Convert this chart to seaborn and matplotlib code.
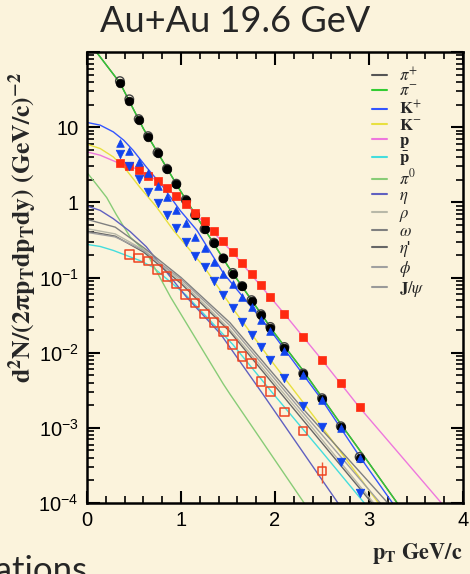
import numpy as np
import pandas as pd
import matplotlib
matplotlib.use('Agg')
import matplotlib.pyplot as plt
import seaborn as sns
from matplotlib.lines import Line2D
from matplotlib.ticker import FixedLocator, FixedFormatter, MultipleLocator, LogLocator, NullFormatter

# 数据点 (pT, 产额)
pt_pi = [0.35, 0.45, 0.55, 0.65, 0.75, 0.85, 0.95, 1.05, 1.15, 1.25, 1.35, 1.45, 1.55, 1.65, 1.75, 1.85, 1.95, 2.1, 2.3, 2.5, 2.7, 2.9]
y_pim = [38.6, 22, 12.4, 7.4, 4.5, 2.75, 1.74, 1.06, 0.67, 0.436, 0.284, 0.179, 0.113, 0.076, 0.0494, 0.032, 0.0216, 0.0117, 0.0052, 0.00244, 0.00103, 0.0004]
y_pip = [41, 23.5, 12.8, 7.6, 4.6, 2.8, 1.77, 1.08, 0.68, 0.44, 0.29, 0.18, 0.115, 0.077, 0.05, 0.0325, 0.022, 0.0119, 0.0053, 0.00248, 0.00105, 0.00041]

pt_k = pt_pi
y_kp = [6.18, 4.83, 3.41, 2.44, 1.67, 1.16, 0.78, 0.53, 0.344, 0.249, 0.16, 0.112, 0.0824, 0.0546, 0.0402, 0.0273, 0.0197, 0.0104, 0.0051, 0.00234, 0.00101, 0.000394]
y_km = [4.46, 3.02, 2.03, 1.39, 0.99, 0.675, 0.454, 0.297, 0.196, 0.136, 0.0912, 0.0593, 0.0388, 0.0259, 0.0173, 0.0118, 0.00807, 0.00457, 0.00197, 0.00103, 0.000356, 0.000137]

pt_p = pt_pi
y_p = [3.34, 3.05, 2.73, 2.27, 1.92, 1.55, 1.2, 0.96, 0.73, 0.558, 0.42, 0.304, 0.216, 0.157, 0.112, 0.08, 0.0558, 0.0328, 0.0161, 0.008, 0.0039, 0.00187]

pt_pbar = [0.45, 0.55, 0.65, 0.75, 0.85, 0.95, 1.05, 1.15, 1.25, 1.35, 1.45, 1.55, 1.65, 1.75, 1.85, 1.95, 2.1, 2.3, 2.5]
y_pbar = [0.203, 0.181, 0.165, 0.127, 0.103, 0.0824, 0.0593, 0.046, 0.0328, 0.0251, 0.0192, 0.0129, 0.00893, 0.00714, 0.00413, 0.00305, 0.00162, 0.00091, 0.000267]
err_pbar = [0] * 18 + [0.00008]

# 模型曲线 (pT, log10 产额)
curve_x = {
    'pi': [0.1, 0.35, 0.6, 1.0, 1.5, 2.0, 2.3, 2.7, 3.0, 3.3],
    'kp': [0.0, 0.14, 0.28, 0.39, 0.49, 0.63, 0.81, 0.99, 1.17, 1.45, 1.95, 2.5, 2.9, 3.25],
    'km': [0.0, 0.14, 0.28, 0.42, 0.56, 0.74, 0.92, 1.25, 1.55, 1.95, 2.5, 2.9, 3.1],
    'p': [0.0, 0.14, 0.31, 0.55, 0.75, 1.05, 1.55, 2.1, 2.5, 2.9, 3.77],
    'pbar': [0.0, 0.14, 0.28, 0.42, 0.56, 0.7, 1.05, 1.55, 1.95, 2.5, 2.95],
    'pi0': [0.0, 0.1, 0.21, 0.31, 0.46, 0.63, 0.89, 1.17, 1.45, 1.52, 2.31],
    'eta': [0.0, 0.14, 0.28, 0.46, 0.63, 1.06, 1.42, 1.87, 2.67],
    'rho': [0.0, 0.3, 0.6, 1.0, 1.52, 2.3, 3.05],
    'omega': [0.0, 0.3, 0.6, 1.0, 1.52, 2.3, 3.2],
    'etap': [0.0, 0.3, 0.6, 1.0, 1.52, 2.3, 3.03],
    'phi': [0.0, 0.3, 0.6, 1.0, 1.52, 2.3, 3.12],
}
curve_logy = {
    'pi': [2.0, 1.59, 0.98, 0.14, -0.85, -1.75, -2.24, -2.95, -3.47, -4.0],
    'kp': [1.063, 1.027, 0.937, 0.827, 0.693, 0.471, 0.204, -0.107, -0.373, -0.94, -1.7, -2.63, -3.38, -4.0],
    'km': [0.773, 0.716, 0.604, 0.427, 0.204, -0.063, -0.373, -0.867, -1.41, -2.09, -2.99, -3.66, -4.0],
    'p': [0.671, 0.627, 0.537, 0.436, 0.284, -0.017, -0.667, -1.484, -2.097, -2.73, -4.0],
    'pbar': [-0.56, -0.587, -0.64, -0.707, -0.773, -0.862, -1.23, -1.89, -2.5, -3.32, -4.0],
    'pi0': [0.396, 0.24, 0.063, -0.16, -0.463, -0.663, -1.263, -1.84, -2.417, -2.55, -4.0],
    'eta': [-0.049, -0.107, -0.218, -0.39, -0.59, -1.263, -1.75, -2.55, -4.0],
    'rho': [-0.351, -0.42, -0.63, -1.05, -1.69, -2.85, -4.0],
    'omega': [-0.227, -0.33, -0.6, -1.0, -1.6, -2.75, -4.0],
    'etap': [-0.383, -0.45, -0.66, -1.08, -1.72, -2.9, -4.0],
    'phi': [-0.40, -0.46, -0.64, -1.02, -1.64, -2.8, -4.0],
}

names = ['pip', 'pim', 'kp', 'km', 'p', 'pbar', 'pi0', 'eta', 'rho', 'omega', 'etap', 'phi', 'jpsi']
labels = [r'$\pi^{+}$', r'$\pi^{-}$', r'$\mathbf{K}^{+}$', r'$\mathbf{K}^{-}$', r'$\mathbf{p}$',
          r'$\bar{\mathbf{p}}$', r'$\pi^{0}$', r'$\eta$', r'$\rho$', r'$\omega$', r"$\eta$'",
          r'$\phi$', r'$\mathbf{J}/\psi$']
colors = ['#555555', '#33cc33', '#3355ff', '#e8e040', '#ee77dd', '#44dddd', '#88cc77',
          '#6060c0', '#b8b8a8', '#808080', '#666666', '#a0a0a0', '#999999']
curve_of = {'pip': 'pi', 'pim': 'pi', 'kp': 'kp', 'km': 'km', 'p': 'p', 'pbar': 'pbar',
            'pi0': 'pi0', 'eta': 'eta', 'rho': 'rho', 'omega': 'omega', 'etap': 'etap', 'phi': 'phi'}

bg = '#fbf3dc'
sns.set_style('ticks')
plt.rcParams['font.family'] = ['Liberation Sans', 'DejaVu Sans']
plt.rcParams['mathtext.fontset'] = 'stix'

fig = plt.figure(figsize=(4.7, 5.74), dpi=100, facecolor=bg)
ax = fig.add_axes([87 / 470, 71 / 574, 376 / 470, 451 / 574], facecolor=bg)

# 曲线 (J/psi 不在范围内)
for n, c in zip(names, colors):
    if n not in curve_of:
        continue
    k = curve_of[n]
    d = pd.DataFrame({'x': curve_x[k], 'y': np.power(10.0, curve_logy[k])})
    sns.lineplot(data=d, x='x', y='y', ax=ax, color=c, lw=1.0, sort=False)

# 数据点
ms = 38
sns.scatterplot(x=pt_pi, y=y_pip, ax=ax, marker='o', s=ms, facecolor='none', edgecolor='#444444', linewidth=1.0, zorder=5)
sns.scatterplot(x=pt_pi, y=y_pim, ax=ax, marker='o', s=ms, color='black', edgecolor='black', linewidth=0.5, zorder=6)
sns.scatterplot(x=pt_p, y=y_p, ax=ax, marker='s', s=ms, color='#ff2a10', edgecolor='#ff2a10', linewidth=0.5, zorder=6)
sns.scatterplot(x=pt_k, y=y_km, ax=ax, marker='v', s=ms, color='#1144ee', edgecolor='#1144ee', linewidth=0.5, zorder=7)
sns.scatterplot(x=pt_k, y=y_kp, ax=ax, marker='^', s=ms * 0.8, color='#1144ee', edgecolor='#1144ee', linewidth=0.5, zorder=7)
ax.errorbar(pt_pbar, y_pbar, yerr=err_pbar, fmt='none', ecolor='#ee5533', elinewidth=1.0, zorder=5)
sns.scatterplot(x=pt_pbar, y=y_pbar, ax=ax, marker='s', s=ms, facecolor='none', edgecolor='#ee4422', linewidth=1.1, zorder=6)

ax.set_yscale('log')
ax.set_xlim(0, 4)
ax.set_ylim(1e-4, 1e2)
ax.set_xlabel('')
ax.set_ylabel('')

ax.xaxis.set_major_locator(MultipleLocator(1))
ax.xaxis.set_minor_locator(MultipleLocator(0.2))
ax.yaxis.set_major_locator(FixedLocator([1e-4, 1e-3, 1e-2, 1e-1, 1, 10, 100]))
ax.yaxis.set_major_formatter(FixedFormatter([r'$\mathdefault{10^{-4}}$', r'$\mathdefault{10^{-3}}$',
                                             r'$\mathdefault{10^{-2}}$', r'$\mathdefault{10^{-1}}$',
                                             '1', '10', '']))
ax.yaxis.set_minor_locator(LogLocator(base=10, subs=np.arange(2, 10)))
ax.yaxis.set_minor_formatter(NullFormatter())
ax.tick_params(which='both', direction='in', top=True, right=True, colors='black',
               labelsize=14.5, pad=6)
ax.tick_params(which='major', length=9, width=1.5)
ax.tick_params(which='minor', length=5, width=1.2)
for s in ax.spines.values():
    s.set_linewidth(1.8)
    s.set_color('black')

# 图例
handles = [Line2D([0], [0], color=c, lw=1.5) for c in colors]
leg = ax.legend(handles, labels, loc='upper right', bbox_to_anchor=(0.925, 0.992), frameon=False,
                fontsize=12, handlelength=0.9, handletextpad=0.7, labelspacing=0.0,
                borderaxespad=0.2)

fig.text(0.5, 1 - 22 / 574, 'Au+Au 19.6 GeV', ha='center', va='center', fontsize=26,
         family=['Lato', 'DejaVu Sans'])
fig.text(23 / 470, 1 - 228 / 574, r'$\mathbf{d^{2}N/(2\pi p_{T}dp_{T}dy)\ (GeV/c)^{-2}}$',
         rotation=90, ha='center', va='center', fontsize=18.5)
fig.text(462 / 470, 1 - 553 / 574, r'$\mathbf{p_{T}\ GeV/c}$', ha='right', va='center', fontsize=16)
fig.text(88 / 470, -7 / 574, 'Calculations', ha='right', va='baseline', fontsize=25,
         family=['Lato', 'DejaVu Sans'])

fig.savefig('out.png', dpi=100, facecolor=bg)
